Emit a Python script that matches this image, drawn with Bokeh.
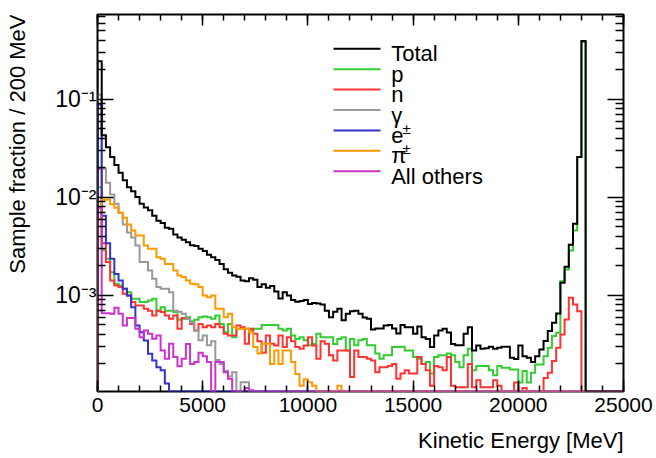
import numpy as np
from bokeh.plotting import figure
from bokeh.models import (Range1d, LinearAxis, LogAxis, FixedTicker, Title,
                          SingleIntervalTicker, Label, Arrow, CustomJSTickFormatter)
from bokeh.embed import file_html
from bokeh.resources import INLINE

# ---------------- data (sample fraction per 200 MeV bin, 0..25000 MeV) ----------------
BIN_WIDTH = 200
N_BINS = 125
X_MIN, X_MAX = 0, 25000
Y_MIN, Y_MAX = 1.047e-4, 0.736

total = [0.246, 0.043, 0.0326, 0.0258, 0.0214, 0.0179, 0.0150, 0.0127, 0.0116, 0.0101,
         0.0086, 0.0079, 0.0074, 0.0065, 0.0058, 0.0055, 0.0049, 0.0048, 0.0042, 0.0039,
         0.0037, 0.0035, 0.00325, 0.0032, 0.0030, 0.00285, 0.0026, 0.00245, 0.0023, 0.0021,
         0.00185, 0.0017, 0.0016, 0.00155, 0.00142, 0.0014, 0.0015, 0.00145, 0.00122, 0.0013,
         0.0012, 0.00125, 0.0011, 0.00093, 0.00108, 0.0010, 0.0009, 0.00086, 0.00088, 0.0009,
         0.00082, 0.00084, 0.00083, 0.00081, 0.0007, 0.0006, 0.00068, 0.00073, 0.00056, 0.00065,
         0.00069, 0.0007, 0.00065, 0.000595, 0.00058, 0.00045, 0.00046, 0.00046, 0.000495, 0.0005,
         0.00046, 0.00041, 0.0005, 0.000475, 0.000475, 0.000407, 0.000483, 0.000375, 0.00036, 0.000297,
         0.00039, 0.00044, 0.000457, 0.00042, 0.00032, 0.00031, 0.00031, 0.000407, 0.000475, 0.000275,
         0.000309, 0.000286, 0.00029, 0.0003, 0.000286, 0.000292, 0.0003, 0.0003, 0.000231, 0.000225,
         0.000309, 0.00024, 0.000231, 0.000209, 0.00024, 0.000281, 0.000342, 0.000433, 0.000526, 0.000655,
         0.00135, 0.00196, 0.0033, 0.0054, 0.0258, 0.394, 0, 0, 0, 0,
         0, 0, 0, 0, 0]

protons = [0.0127, 0.0029, 0.00237, 0.00173, 0.00132, 0.00126, 0.00117, 0.00108, 0.000925, 0.000925,
           0.000855, 0.000855, 0.00089, 0.000925, 0.0007, 0.00076, 0.0007, 0.0007, 0.000676, 0.000565,
           0.000578, 0.0006, 0.000547, 0.000565, 0.0006, 0.00061, 0.0006, 0.00058, 0.000625, 0.00051,
           0.000422, 0.00051, 0.000375, 0.000457, 0.000457, 0.000457, 0.00044, 0.000457, 0.000457, 0.0005,
           0.0005, 0.0005, 0.0005, 0.000457, 0.00044, 0.000457, 0.00039, 0.00036, 0.000375, 0.00035,
           0.00031, 0.00032, 0.000407, 0.000375, 0.000375, 0.000375, 0.00032, 0.00036, 0.000375, 0.000275,
           0.00036, 0.00031, 0.00035, 0.00036, 0.00031, 0.00031, 0.000255, 0.000226, 0.000245, 0.000245,
           0.000297, 0.000297, 0.0003, 0.000275, 0.000275, 0.000235, 0.000226, 0.0002, 0.000209, 0.00016,
           0.000235, 0.000245, 0.000245, 0.000255, 0.000245, 0.000209, 0.000185, 0.000245, 0.000286, 0.000172,
           0.000191, 0.000191, 0.000191, 0.000172, 0.000153, 0.000191, 0.000183, 0.000183, 0.000176, 0.000176,
           0.000129, 0.000169, 0.000129, 0.000163, 0.000198, 0.000198, 0.00024, 0.000292, 0.000385, 0.000416,
           0.0014, 0.00184, 0.00288, 0.0046, 0.0258, 0.385, 0, 0, 0, 0,
           0, 0, 0, 0, 0]

neutrons = [0.0196, 0.0034, 0.0022, 0.00142, 0.00126, 0.00122, 0.00104, 0.001, 0.000855, 0.00079,
            0.00079, 0.00073, 0.0007, 0.000625, 0.0007, 0.000676, 0.000625, 0.000578, 0.000625, 0.000457,
            0.00059, 0.000578, 0.00051, 0.00044, 0.00051, 0.000475, 0.000495, 0.000475, 0.00051, 0.000475,
            0.000407, 0.00039, 0.00039, 0.000495, 0.000475, 0.000321, 0.000457, 0.000407, 0.00034, 0.00026,
            0.00039, 0.000321, 0.000309, 0.00039, 0.000297, 0.000375, 0.00034, 0.000297, 0.000286, 0.000309,
            0.000375, 0.000309, 0.000226, 0.00034, 0.000321, 0.000245, 0.000217, 0.000275, 0.000275, 0.000275,
            0.000147, 0.000275, 0.000235, 0.000235, 0.000226, 0.000217, 0.000165, 0.000185, 0.000185, 0.000191,
            0.0002, 0.000141, 0.00016, 0.000172, 0.00016, 0.00016, 0.000235, 0.0002, 0.000172, 0.00012,
            0.000191, 0.000185, 0.000172, 0.000235, 0.00012, 0.000116, 0.000116, 0.000116, 0.0002, 0.000116,
            0.000136, 0.000116, 0.000116, 0.000116, 0.000136, 0.00012, 0, 0, 0, 0.000129,
            0, 0.000114, 0, 0, 0, 0, 0.000144, 0.000163, 0.000214, 0.000292,
            0.0004, 0.00057, 0.000946, 0.00081, 0.00069, 0, 0, 0, 0, 0,
            0, 0, 0, 0, 0]

gammas = [0.112, 0.0196, 0.0141, 0.0107, 0.0086, 0.007, 0.0053, 0.0044, 0.0039, 0.00324,
          0.0022, 0.0022, 0.0018, 0.00148, 0.00122, 0.00117, 0.00117, 0.00108, 0.0007, 0.00068,
          0.00065, 0.00058, 0.00053, 0.00044, 0.00035, 0.00039, 0.00031, 0.00034, 0.00022, 0.0002,
          0.00017, 0.00015, 0.000165, 0, 0.00013, 0.00013]

electrons = [0.089, 0.0065, 0.0034, 0.00237, 0.00166, 0.00142, 0.00117, 0.001, 0.00076, 0.000494,
             0.000422, 0.000348, 0.000254, 0.000217, 0.000185, 0.000172, 0.000126]

pions = [0.0061, 0.0095, 0.0095, 0.0085, 0.00785, 0.007, 0.0062, 0.0053, 0.0046, 0.0041,
         0.0041, 0.00324, 0.003, 0.003, 0.00246, 0.00237, 0.0021, 0.0021, 0.0018, 0.0016,
         0.00154, 0.00142, 0.00132, 0.0013, 0.00122, 0.001, 0.00096, 0.001, 0.00073, 0.00073,
         0.0006, 0.00065, 0.000475, 0.000457, 0.000457, 0.000457, 0.000422, 0.000297, 0.000255, 0.000321,
         0.000321, 0.0002, 0.000275, 0.0002, 0.000275, 0.000275, 0.000209, 0.000158, 0.00012, 0.00014,
         0.00013, 0.00012, 0, 0, 0, 0, 0, 0.00012]

others = [0.00785, 0.00066, 0.00066, 0.00065, 0.00075, 0.00065, 0.000495, 0.00059, 0.00059, 0.000457,
          0.000375, 0.00044, 0.000407, 0.000361, 0.000391, 0.000275, 0.000226, 0.000321, 0.000235, 0.000189,
          0.000226, 0.00032, 0.0002, 0.00021, 0.00026, 0.00024, 0.00021, 0, 0.000209, 0.000209,
          0.000165, 0.000141, 0, 0, 0, 0.000114, 0.000108]

series_labels = ["Total", "p", "n", "\u03b3", "e", "\u03c0", "All others"]
label_superscripts = ["", "", "", "", "\u00b1", "\u00b1", ""]
series_colors = ["#000000", "#33cc33", "#ff3333", "#999999", "#3333cc", "#ff9900", "#cc33cc"]
series_values = [total, protons, neutrons, gammas, electrons, pions, others]

y_decades = [1e-1, 1e-2, 1e-3]
X_TITLE = "Kinetic Energy [MeV]"
Y_TITLE = "Sample fraction / 200 MeV"

FONT = "Liberation Sans"

# ---------------- figure ----------------
p = figure(width=656, height=458, x_range=Range1d(X_MIN, X_MAX),
           y_range=Range1d(Y_MIN, Y_MAX), y_axis_type="log",
           output_backend="svg", toolbar_location=None,
           min_border_left=97, min_border_right=33, min_border_top=14, min_border_bottom=67)
p.background_fill_color = "white"
p.border_fill_color = "white"
p.xgrid.visible = False
p.ygrid.visible = False
p.outline_line_color = "black"
p.outline_line_width = 2

edges = np.arange(N_BINS + 1) * BIN_WIDTH


def outline(vals):
    v = np.zeros(N_BINS)
    v[:len(vals)] = vals
    v = np.where(v > 0, v, Y_MIN)
    xs = np.repeat(edges, 2)
    ys = np.concatenate([[Y_MIN], np.repeat(v, 2), [Y_MIN]])
    return xs, ys


order = [1, 2, 3, 4, 5, 6, 0]
for i in order:
    xs, ys = outline(series_values[i])
    p.line(xs, ys, line_color=series_colors[i], line_width=2, line_join="miter")

# ---------------- axes ----------------
blank = CustomJSTickFormatter(code="return ''")
pow10 = CustomJSTickFormatter(code="""
const e = Math.round(Math.log10(tick));
const sup = {'-': '\\u207b', '0': '\\u2070', '1': '\\u00b9', '2': '\\u00b2', '3': '\\u00b3',
             '4': '\\u2074', '5': '\\u2075', '6': '\\u2076', '7': '\\u2077', '8': '\\u2078', '9': '\\u2079'};
return '10' + String(e).split('').map(c => sup[c]).join('');
""")
minor_y = [k * 10.0 ** e for e in (-4, -3, -2, -1) for k in range(2, 10)]

xa = p.xaxis[0]
xa.ticker = SingleIntervalTicker(interval=5000, num_minor_ticks=5)
xa.axis_line_color = None
xa.major_tick_in = 11
xa.major_tick_out = 0
xa.minor_tick_in = 6
xa.minor_tick_out = 0
xa.major_tick_line_width = 1.5
xa.minor_tick_line_width = 1.5
xa.major_label_text_font = FONT
xa.major_label_text_font_size = "21px"
xa.major_label_text_color = "black"
xa.major_label_standoff = 6

top = LinearAxis(ticker=SingleIntervalTicker(interval=5000, num_minor_ticks=5),
                 formatter=blank, axis_line_color=None, major_tick_in=11, major_tick_out=0,
                 minor_tick_in=6, minor_tick_out=0, major_tick_line_width=1.5,
                 minor_tick_line_width=1.5, major_label_standoff=0)
p.add_layout(top, "above")

ya = p.yaxis[0]
ya.ticker = FixedTicker(ticks=y_decades, minor_ticks=minor_y)
ya.formatter = pow10
ya.axis_line_color = None
ya.major_tick_in = 16
ya.major_tick_out = 0
ya.minor_tick_in = 8
ya.minor_tick_out = 0
ya.major_tick_line_width = 1.5
ya.minor_tick_line_width = 1.5
ya.major_label_text_font = FONT
ya.major_label_text_font_size = "23px"
ya.major_label_text_color = "black"
ya.major_label_standoff = 1

right = LogAxis(ticker=FixedTicker(ticks=y_decades, minor_ticks=minor_y),
                formatter=blank, axis_line_color=None, major_tick_in=16, major_tick_out=0,
                minor_tick_in=8, minor_tick_out=0, major_tick_line_width=1.5,
                minor_tick_line_width=1.5, major_label_standoff=0)
p.add_layout(right, "right")


# axis titles, right/top-aligned at the end of each axis (ROOT style)
def make_title(text, pad):
    kw = dict(text=text, align="right", text_font=FONT, text_font_size="22px",
              text_font_style="normal", text_color="black")
    try:
        return Title(padding=pad, **kw)
    except Exception:
        return Title(**kw)


p.add_layout(make_title(X_TITLE, dict(left=0, right=0, top=6, bottom=0)), "below")
p.add_layout(make_title(Y_TITLE, dict(left=0, right=0, top=0, bottom=18)), "left")

# ---------------- legend ----------------
FRAME_BOTTOM_PX = 391
row0, row_step = 48.3, 20.4
for k, (lab, sup, col) in enumerate(zip(series_labels, label_superscripts, series_colors)):
    ly = row0 + k * row_step
    sy = FRAME_BOTTOM_PX - ly
    p.add_layout(Arrow(end=None, x_start=236, y_start=sy, x_end=283, y_end=sy,
                       start_units="screen", end_units="screen",
                       line_color=col, line_width=2))
    p.add_layout(Label(x=293.7, y=sy - 5, x_units="screen", y_units="screen",
                       text=lab, text_align="left", text_baseline="alphabetic",
                       text_font=FONT, text_font_size="22px", text_color="black"))
    if sup:
        p.add_layout(Label(x=305, y=sy + 2, x_units="screen", y_units="screen",
                           text=sup, text_align="left", text_baseline="alphabetic",
                           text_font=FONT, text_font_size="15px", text_color="black"))

open("out.html", "w").write(file_html(p, INLINE))
